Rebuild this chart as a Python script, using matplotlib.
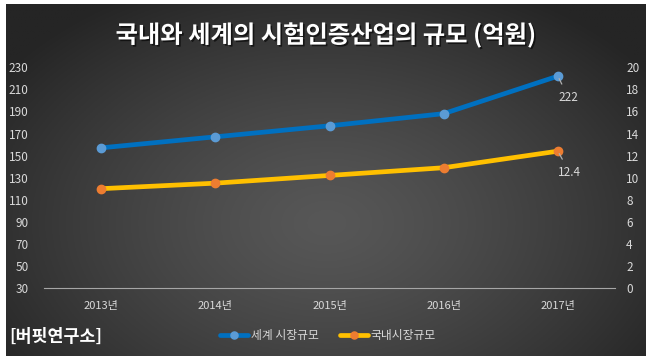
import numpy as np
import matplotlib
matplotlib.use("Agg")
import matplotlib.pyplot as plt
from matplotlib import patheffects as pe

plt.rcParams['font.family'] = ['Noto Sans CJK KR', 'DejaVu Sans']

years = ["2013년", "2014년", "2015년", "2016년", "2017년"]
world = [157, 167, 177, 188, 222]
domestic = [9.0, 9.5, 10.2, 10.9, 12.4]
left_ticks = list(range(30, 231, 20))
right_ticks = list(range(0, 21, 2))
title = "국내와 세계의 시험인증산업의 규모 (억원)"
source = "[버핏연구소]"
labels = ["세계 시장규모", "국내시장규모"]

W, H = 649, 360
fig = plt.figure(figsize=(W/100, H/100), dpi=100)
fig.patch.set_facecolor("white")

# gradient background
bg = fig.add_axes([6/W, 4/H, 640/W, 352/H])
bg.set_axis_off()
ny, nx = 200, 360
yy, xx = np.mgrid[0:ny, 0:nx]
cx, cy = nx*0.5, ny*0.62
r = np.sqrt(((xx-cx)/(nx*0.62))**2 + ((yy-cy)/(ny*0.75))**2)
r = np.clip(r, 0, 1)
c_in, c_out = 0x57/255, 0x25/255
val = c_in + (c_out - c_in) * r**1.3
img = np.dstack([val, val, val])
bg.imshow(img, aspect='auto', extent=[0, 1, 0, 1], origin='upper')
bg.set_xlim(0, 1); bg.set_ylim(0, 1)

ax = fig.add_axes([44/W, 1-288/H, (615-44)/W, (288-67.3)/H])
ax.patch.set_alpha(0)
ax2 = ax.twinx()
ax2.patch.set_alpha(0)

x = np.arange(len(years))
tick_color = "#d9d9d9"

l1, = ax.plot(x, world, color="#0070c0", lw=3.4, marker='o', ms=6,
              mfc="#5b9bd5", mec="#5b9bd5", solid_capstyle='round', zorder=3)
l2, = ax2.plot(x, domestic, color="#ffc000", lw=3.4, marker='o', ms=6,
               mfc="#ed7d31", mec="#ed7d31", solid_capstyle='round', zorder=3)

ax.set_xlim(-0.5, len(years)-0.5)
ax.set_ylim(30, 230)
ax.set_yticks(left_ticks)
ax2.set_ylim(0, 20)
ax2.set_yticks(right_ticks)
ax.set_xticks(x)
ax.set_xticklabels(years)

for a in (ax, ax2):
    for s in a.spines.values():
        s.set_visible(False)
    a.tick_params(length=0, colors=tick_color, labelsize=8)
ax.spines['bottom'].set_visible(True)
ax.spines['bottom'].set_color("#a6a6a6")
ax.spines['bottom'].set_linewidth(0.8)
ax.tick_params(axis='y', pad=11, labelsize=8.5)
ax2.tick_params(axis='y', pad=8, labelsize=8.5)
ax.tick_params(axis='x', pad=9)

# data labels with leader lines
ax.annotate(f"{world[-1]:g}", xy=(x[-1], world[-1]), xytext=(x[-1]+0.09, world[-1]-19),
            color=tick_color, fontsize=8.5, ha='center', va='center',
            arrowprops=dict(arrowstyle='-', color="#b0b0b0", lw=0.9, shrinkA=3, shrinkB=2))
ax2.annotate(f"{domestic[-1]:g}", xy=(x[-1], domestic[-1]), xytext=(x[-1]+0.1, domestic[-1]-1.9),
             color=tick_color, fontsize=8.5, ha='center', va='center',
             arrowprops=dict(arrowstyle='-', color="#b0b0b0", lw=0.9, shrinkA=3, shrinkB=2))

fig.text(326/W, 1-35/H, title, color="white", fontsize=17.5, fontweight='bold',
         ha='center', va='center',
         path_effects=[pe.withSimplePatchShadow(offset=(1.2, -1.2), shadow_rgbFace='black', alpha=0.6)])

fig.text(9/W, 1-337/H, source, color="white", fontsize=12.5, fontweight='bold',
         ha='left', va='center')

leg = fig.legend([l1, l2], labels, loc='center', bbox_to_anchor=(328/W, 1-336/H),
                 ncol=2, frameon=False, fontsize=8.5, labelcolor=tick_color,
                 handlelength=2.4, columnspacing=1.8, handletextpad=0.2, markerscale=0.85)

fig.savefig("out.png", dpi=100, facecolor=fig.get_facecolor())
